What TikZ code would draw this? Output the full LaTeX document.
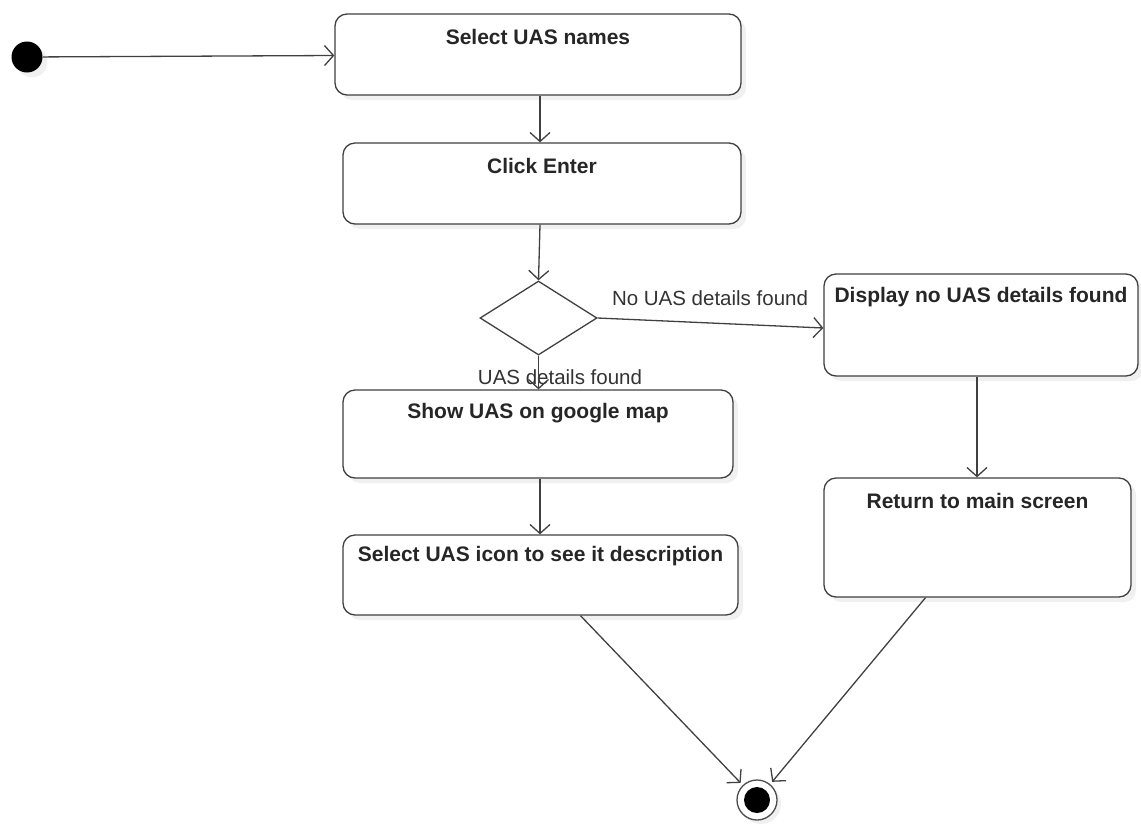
\documentclass[tikz,border=0pt]{standalone}
\usepackage{fontspec}
\setmainfont{Liberation Sans}
\usepackage{tikz}
\usetikzlibrary{positioning}
\usetikzlibrary{shapes.geometric}
\usetikzlibrary{arrows.meta}
\usetikzlibrary{shadows}
\pgfdeclarelayer{nodelayer}
\pgfdeclarelayer{edgelayer}
\pgfsetlayers{nodelayer,edgelayer,main}
\tikzset{
  act/.style={draw=black!75, line width=1.3pt, rounded corners=12pt, fill=white,
    drop shadow={opacity=0.12, shadow xshift=5pt, shadow yshift=-5pt}},
  acttext/.style={anchor=center, yshift=-24pt, inner sep=0pt,
    font=\fontsize{21}{25}\selectfont\bfseries, text=black!85},
  guard/.style={font=\fontsize{20.5}{24}\selectfont, text=black!80, inner sep=0pt},
  flow/.style={draw=black!75, line width=1.3pt,
    -{Straight Barb[length=9pt, width=20pt, line width=1.3pt]}}
}

\begin{document}
\begin{tikzpicture}[x=1pt, y=-1pt]
  \useasboundingbox (0,0) rectangle (1141,831);
  \begin{pgfonlayer}{nodelayer}
    \node [circle, fill=black, inner sep=0pt, minimum size=31pt,
      drop shadow={opacity=0.12, shadow xshift=5pt, shadow yshift=-5pt}] (0) at (27, 57) {};
    \node [act, minimum width=406pt, minimum height=81pt,
      label={[acttext]north:Select UAS names}] (1) at (538, 54.5) {};
    \node [act, minimum width=398pt, minimum height=81pt,
      label={[acttext]north:Click Enter}] (2) at (542, 183.5) {};
    \node [diamond, draw=black!75, line width=1.3pt, fill=white, inner sep=0pt,
      minimum width=117pt, minimum height=74pt] (3) at (538.5, 318) {};
    \node [act, minimum width=314pt, minimum height=102pt,
      label={[acttext]north:Display no UAS details found}] (4) at (981, 325) {};
    \node [act, minimum width=307pt, minimum height=119pt,
      label={[acttext]north:Return to main screen}] (5) at (977.5, 537.5) {};
    \node [act, minimum width=390pt, minimum height=88pt,
      label={[acttext]north:Show UAS on google map}] (6) at (538, 434) {};
    \node [act, minimum width=395pt, minimum height=80pt,
      label={[acttext, yshift=2pt]north:Select UAS icon to see it description}] (7) at (540.5, 575) {};
    \node [circle, draw=black!70, line width=1.3pt, fill=white, minimum size=40pt, inner sep=0pt,
      drop shadow={opacity=0.12, shadow xshift=4pt, shadow yshift=-4pt}] (8) at (757, 800) {};
    \node [circle, fill=black, inner sep=0pt, minimum size=26pt] (9) at (757, 800) {};
    \node [guard] (10) at (710, 298) {No UAS details found};
    \node [guard] (11) at (560, 377) {UAS details found};
    \coordinate (12) at ([xshift=40pt]7.south);
    \coordinate (13) at ([xshift=-52pt]5.south);
  \end{pgfonlayer}
  \begin{pgfonlayer}{edgelayer}
    \draw [flow] (0) to (1);
    \draw [flow] (1.south -| 540,0) to (2.north -| 540,0);
    \draw [flow] (2.south -| 540,0) to (3.north);
    \draw [flow] (3.east) to ([yshift=-3pt]4.west);
    \draw [flow] (3.south) to (6.north -| 3.south);
    \draw [flow] (4.south -| 977,0) to (5.north -| 977,0);
    \draw [flow] (6.south -| 540,0) to (7.north -| 540,0);
    \draw [flow, shorten >=3pt] (12) to (8);
    \draw [flow, shorten >=3pt] (13) to (8);
  \end{pgfonlayer}
\end{tikzpicture}
\end{document}
